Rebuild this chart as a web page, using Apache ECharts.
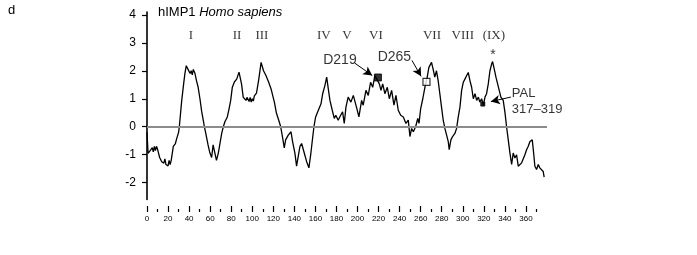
<!DOCTYPE html>
<html><head><meta charset="utf-8">
<script src="https://cdn.jsdelivr.net/npm/echarts@6/dist/echarts.min.js"></script>
<style>html,body{margin:0;padding:0;background:#fff}#c{width:697px;height:255px}</style>
</head><body><div id="c"></div>
<script>
// residue positions and hydropathy values
const residue = [0,1,3,5,6,7,8,9,10,12,14,16,17,18,20,21,22,23,25,27,28,30,30.7,33,34.8,36,37.3,38,39,40,41,42,43,44,45.6,47,48.6,50.3,52,53.7,54.5,55.8,58,59.5,61.4,62.8,64.8,66,67.7,69.3,71,72.5,74,76.3,78,79.5,81,83,85.2,87.4,88,89.8,91.4,93,94,95,96.3,97,98,99,100,101,102,104,106,108.4,110.7,113,115.5,117.8,121,123,125.6,127,128.9,130.4,131.7,134.2,136.8,138.3,140.5,142.1,143.7,145.3,146.9,149.4,151.6,153.8,155.7,157.3,158.6,160.2,162.1,163.5,165.3,166.9,169,170.7,172.2,173.8,176,177.9,179.4,181.6,184,185.8,187.4,189,191.1,193.7,196,199,201.3,203.9,205.4,208,210.2,212.4,214.4,216.5,218.2,220.7,222.3,223.9,226,228.3,230.2,232.4,234.6,236.5,238.7,241,243.5,246,248.2,249.8,251.4,253,255.2,257.2,258.4,260,262,264,266.2,267.8,270.3,271.8,273.4,275,276.6,278.2,279.8,281.4,283,284.6,286.2,287.1,288.7,290.3,292.5,294.1,295.7,297.3,298.9,300.5,302,303.6,305.2,306.8,308.4,310,311.6,313.2,314.8,316.2,317.9,319.5,321.1,322.6,324.2,325.8,327.4,328.3,329.9,331.5,333.1,334.6,336.2,338.4,340,341.6,343.2,344.8,346.4,347.9,349.5,351.1,352.7,354.3,355.9,357.5,359,360.6,362.2,363.8,366,367.3,368.5,370.1,371.7,373.2,374.8,376.4,377.3];
const hydropathy = [-0.2,-0.95,-0.85,-0.75,-0.9,-0.7,-0.85,-0.7,-0.8,-1.1,-1.25,-1.3,-1.15,-1.35,-1.4,-1.2,-1.35,-1.2,-0.7,-0.6,-0.45,-0.2,0,0.94,1.53,1.9,2.18,2.2,2.05,2.1,1.9,2.0,1.85,2.05,1.9,1.65,1.41,1.0,0.53,0.18,0,-0.23,-0.65,-0.9,-1.1,-0.65,-1.0,-1.2,-0.95,-0.6,-0.23,0,0.18,0.35,0.65,0.94,1.4,1.6,1.7,1.95,2.0,1.53,1.06,1.0,0.94,1.05,1.0,0.9,1.05,0.88,1.0,0.92,1.1,1.2,1.65,2.3,2.0,1.83,1.6,1.36,0.88,0.48,0.18,0,-0.41,-0.76,-0.47,-0.3,-0.18,-0.53,-0.94,-1.41,-1.35,-0.7,-0.6,-0.94,-1.24,-1.47,-0.94,-0.41,0,0.35,0.53,0.47,0.82,1.18,1.47,1.77,1.36,0.94,0.59,0.3,0.41,0.23,0.41,0.53,0.12,0.7,1.06,0.88,1.12,0.7,0.35,0.94,0.77,1.3,1.12,1.59,1.41,1.83,1.88,1.53,1.3,1.53,1.18,1.41,1.0,1.3,0.77,1.12,0.59,0.41,0.35,0.12,0.24,-0.35,-0.06,-0.18,0,0.3,0.12,0.65,1.0,1.41,1.77,2.12,2.3,2.06,1.77,2.0,1.65,1.18,0.7,0.24,-0.06,-0.12,-0.53,-0.82,-0.47,-0.35,-0.24,-0.06,0.35,0.7,1.3,1.59,1.7,1.82,1.94,1.65,1.41,1.0,1.18,0.94,1.06,0.88,1.0,0.76,1.06,1.18,1.53,2.0,2.24,2.33,2.06,1.77,1.53,1.3,1.06,0.94,0.53,0,-0.47,-0.94,-1.35,-0.94,-1.12,-1.0,-1.41,-1.47,-1.29,-1.35,-1.0,-0.82,-0.7,-0.53,-0.47,-0.94,-1.41,-1.53,-1.35,-1.47,-1.41,-1.6,-1.8];

const xMajorTicks = [0,20,40,60,80,100,120,140,160,180,200,220,240,260,280,300,320,340,360];
const xMinorTicks = [10,30,50,70,90,110,130,150,170,190,210,230,250,270,290,310,330,350,370];
const yTicks = [-2,-1,0,1,2,3,4];

// domain labels
const domainNames = ['I','II','III','IV','V','VI','VII','VIII','(IX)'];
const domainPos = [41.8,85.5,109.2,168,190,217.5,270.7,300,329.5];
const domainLevel = 3.27;

// site markers
const siteNames = ['D219','D265','PAL'];
const sitePos = [219.4,265.5,319];
const siteVal = [1.76,1.6,0.81];

// text annotations
const noteText = ['D219','D265','*'];
const notePos = [183.3,235,328.6];
const noteVal = [2.38,2.49,2.55];
const palLines = ['PAL','317–319'];
const palPos = 346.6;
const palVal = [1.2,0.63];

// arrows [fromX, fromY, toX, toY]
const arrows = [[197.5,2.27,214,1.83],[251.7,2.37,260.4,1.8],[345.7,1.06,326.7,0.9]];

const chart = echarts.init(document.getElementById('c'), null, {renderer:'canvas'});

chart.setOption({
  animation:false,
  backgroundColor:'#fff',
  graphic:[
    {type:'text', left:8, top:4, style:{text:'d', font:'13px Liberation Sans', fill:'#000'}},
  ],
  title:{
    text:'{a|hIMP1 }{b|Homo sapiens}',
    left:158, top:6, padding:0,
    textStyle:{fontWeight:'normal', rich:{
      a:{fontSize:13, fontWeight:'normal', fontFamily:'Liberation Sans', color:'#000'},
      b:{fontSize:13, fontWeight:'normal', fontFamily:'Liberation Sans', fontStyle:'italic', color:'#000'}
    }}
  },
  grid:{left:147, top:12, right:150, bottom:55.5, containLabel:false},
  xAxis:[
    {type:'value', min:0, max:380, offset:12.5, position:'bottom',
     axisLine:{show:false, onZero:false}, splitLine:{show:false},
     axisTick:{show:true, inside:true, length:6, customValues:xMajorTicks, lineStyle:{color:'#000', width:1.2}},
     axisLabel:{customValues:xMajorTicks, fontSize:8, margin:3, color:'#000', fontFamily:'Liberation Sans'}},
    {type:'value', min:0, max:380, offset:12.5, position:'bottom',
     axisLine:{show:false, onZero:false}, splitLine:{show:false},
     axisTick:{show:true, inside:true, length:3, customValues:xMinorTicks, lineStyle:{color:'#000', width:1.2}},
     axisLabel:{show:false}}
  ],
  yAxis:{type:'value', min:-2.6, max:4.1,
    axisLine:{show:true, lineStyle:{color:'#000', width:1.6}},
    axisTick:{show:true, length:5, customValues:yTicks, lineStyle:{color:'#000', width:1.2}},
    axisLabel:{customValues:yTicks, fontSize:12, margin:11, color:'#000', fontFamily:'Liberation Sans'},
    splitLine:{show:false}},
  series:[
    {type:'line', data:[], z:1, silent:true,
     markLine:{silent:true, symbol:['none','none'], label:{show:false},
       lineStyle:{color:'#8c8c8c', width:2, type:'solid'},
       data:[{yAxis:0}]}},
    {type:'line', z:3, silent:true, showSymbol:false, symbol:'none',
     data: residue.map((x,i)=>[x, hydropathy[i]]),
     lineStyle:{color:'#000', width:1.3}},
    {type:'scatter', z:4, silent:true,
     data: siteNames.map((n,i)=>({name:n, value:[sitePos[i], siteVal[i]],
        symbolSize: i===2?4:7,
        itemStyle: i===1?{color:'#fff', borderColor:'#000', borderWidth:1.2}:{color:'#000', borderColor:'#000', borderWidth:1}})),
     symbol:'rect',
     markLine:{silent:true, symbol:['none','arrow'], symbolSize:[7,9], label:{show:false},
       lineStyle:{color:'#000', width:1, type:'solid'},
       data: arrows.map(a=>[{coord:[a[0],a[1]]},{coord:[a[2],a[3]]}])}},
    {type:'scatter', z:5, silent:true, symbolSize:0,
     data: domainNames.map((n,i)=>({name:n, value:[domainPos[i], domainLevel]})),
     label:{show:true, position:'inside', formatter:'{b}', fontSize:13, color:'#000', fontFamily:'Liberation Serif'}},
    {type:'scatter', z:5, silent:true, symbolSize:0,
     data: noteText.map((n,i)=>({name:n, value:[notePos[i], noteVal[i]]})),
     label:{show:true, position:'inside', formatter:'{b}', fontSize:14, color:'#000', fontFamily:'Liberation Sans'}},
    {type:'scatter', z:5, silent:true, symbolSize:0,
     data: palLines.map((n,i)=>({name:n, value:[palPos, palVal[i]]})),
     label:{show:true, position:'right', distance:0, formatter:'{b}', fontSize:13, color:'#000', fontFamily:'Liberation Sans'}}
  ]
});
</script></body></html>
